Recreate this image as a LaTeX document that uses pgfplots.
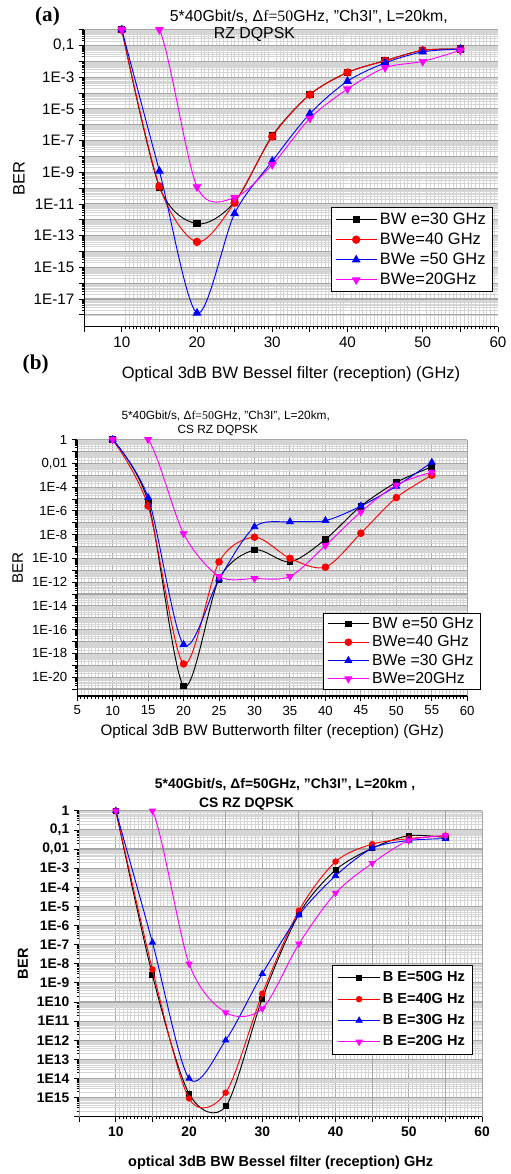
\documentclass[border=0pt]{standalone}
\usepackage{fontspec}
\setmainfont{Liberation Sans}
\newfontfamily\seriffont{Liberation Serif}
\usepackage{pgfplots}
\pgfplotsset{compat=1.18}
\pgfkeys{/pgf/number format/assume math mode=true}
\definecolor{bermag}{HTML}{FF00FF}
\newcommand\fsz[1]{\fontsize{#1}{#1}\selectfont}

\pgfplotsset{
  berax/.style={
    scale only axis,
    axis lines*=left,
    axis line style={black, line width=0.9pt},
    tick align=outside,
    tick style={black, line width=0.6pt},
    major tick length=4pt,
    minor tick length=2pt,
    major grid style={gray!70, line width=0.8pt},
    minor grid style={gray!33, line width=0.35pt},
    clip mode=individual,
    legend cell align=left,
    legend image code/.code={\draw[mark repeat=2,mark phase=2] plot coordinates {(0cm,0cm) (0.55cm,0cm) (1.1cm,0cm)};},
  },
  sblack/.style={black, line width=0.7pt, smooth, mark=square*, mark size=2.4pt, mark options={solid}},
  sred/.style={red, line width=0.7pt, smooth, mark=*, mark size=2.8pt, mark options={solid}},
  sblue/.style={blue, line width=0.7pt, smooth, mark=triangle*, mark size=3.2pt, mark options={solid}},
  smag/.style={bermag, line width=0.7pt, smooth, mark=triangle*, mark size=3.2pt, mark options={solid, rotate=180}},
}

\begin{document}
\begin{tikzpicture}
\path (0,0) rectangle (384.75pt,-880.5pt);

% ---------------- (a) ----------------
\begin{axis}[berax, ymode=log,
  at={(63.75pt,-22.5pt)}, anchor=north west,
  width=313.5pt, height=225pt,
  xmin=5, xmax=60, ymin=1.78e-19, ymax=1,
  xtick={10,20,...,60},
  extra x ticks={5,15,...,55}, extra x tick labels={},
  extra x tick style={grid=none},
  minor x tick num=19,
  xmajorgrids=false, xminorgrids=true,
  ymajorgrids=true, yminorgrids=true,
  ytickten={-18,...,0},
  yticklabels={,1E-17,,1E-15,,1E-13,,1E-11,,1E-9,,1E-7,,1E-5,,1E-3,,{0,1},},
  ticklabel style={font=\fsz{11.5}},
  xlabel={Optical 3dB BW Bessel filter (reception) (GHz)},
  ylabel={BER},
  label style={font=\fsz{12.5}},
  legend style={at={(0.988,0.403)}, anchor=north east, draw=black, line width=0.8pt,
    font=\fsz{12.5}, inner xsep=3pt, inner ysep=2pt, row sep=1pt},
]
\addplot[sblack] coordinates {(10,1) (15,1.2e-10) (20,5.6e-13) (25,1.3e-11) (30,2e-7) (35,8e-5) (40,2e-3) (45,1.1e-2) (50,5e-2) (55,6e-2)};
\addlegendentry{BW e=30 GHz}
\addplot[sred] coordinates {(10,1) (15,1.3e-10) (20,4e-14) (25,1.2e-11) (30,1.8e-7) (35,8e-5) (40,2e-3) (45,1.1e-2) (50,5e-2) (55,6e-2)};
\addlegendentry{BWe=40 GHz}
\addplot[sblue] coordinates {(10,1) (15,1.2e-9) (20,1.3e-18) (25,2.5e-12) (30,5e-9) (35,5e-6) (40,5.6e-4) (45,8e-3) (50,4e-2) (55,6e-2)};
\addlegendentry{BWe =50 GHz}
\addplot[smag] coordinates {(10,1) (15,1) (20,1.2e-10) (25,2.5e-11) (30,3e-9) (35,2.5e-6) (40,1.8e-4) (45,4e-3) (50,1e-2) (55,5e-2)};
\addlegendentry{BWe=20GHz}
\end{axis}
\node[font=\seriffont\bfseries\fsz{16}] at (36pt,-12.75pt) {(a)};
\node[font=\fsz{12}] at (234pt,-12.75pt) {5*40Gbit/s, Δ{\seriffont f=50}GHz, "Ch3I", L=20km,};
\node[font=\fsz{12}] at (192.75pt,-26.25pt) {RZ DQPSK};

% ---------------- (b) ----------------
\begin{axis}[berax, ymode=log,
  at={(58.5pt,-333pt)}, anchor=north west,
  width=295.5pt, height=194.25pt,
  xmin=5, xmax=60, ymin=2.6e-22, ymax=1,
  xtick={5,10,...,60},
  minor x tick num=9,
  grid=both,
  ytickten={-21,...,0},
  yticklabels={,1E-20,,1E-18,,1E-16,,1E-14,,1E-12,,1E-10,,1E-8,,1E-6,,1E-4,,{0,01},,1},
  ticklabel style={font=\fsz{10}},
  xlabel={Optical 3dB BW Butterworth filter (reception) (GHz)},
  ylabel={BER},
  label style={font=\fsz{11.5}},
  legend style={at={(1.035,0.324)}, anchor=north east, draw=black, line width=0.8pt,
    font=\fsz{12}, inner xsep=3pt, inner ysep=1pt, row sep=0pt},
]
\addplot[sblack, mark size=2.2pt] coordinates {(10,1) (15,5.6e-6) (20,1.8e-21) (25,1.8e-12) (30,5e-10) (35,5e-11) (40,4e-9) (45,2.5e-6) (50,2.5e-4) (55,5e-3)};
\addlegendentry{BW e=50 GHz}
\addplot[sred, mark size=2.5pt] coordinates {(10,1) (15,2.5e-6) (20,1.3e-19) (25,5e-11) (30,6e-9) (35,1e-10) (40,1.8e-11) (45,1.3e-8) (50,1.3e-5) (55,1e-3)};
\addlegendentry{BWe=40 GHz}
\addplot[sblue, mark size=2.9pt] coordinates {(10,1) (15,1.3e-5) (20,5.6e-18) (25,1.8e-12) (30,4.5e-8) (35,1.2e-7) (40,1.5e-7) (45,2.5e-6) (50,1.2e-4) (55,1.2e-2)};
\addlegendentry{BWe =30 GHz}
\addplot[smag, mark size=2.9pt] coordinates {(10,1) (15,1) (20,1.2e-8) (25,3e-12) (30,2e-12) (35,3e-12) (40,1.2e-9) (45,8e-7) (50,1.5e-4) (55,1.8e-3)};
\addlegendentry{BWe=20GHz}
\end{axis}
\node[font=\seriffont\bfseries\fsz{16}] at (27pt,-276pt) {(b)};
\node[font=\fsz{9}] at (171pt,-315pt) {5*40Gbit/s, Δ{\seriffont f=50}GHz, "Ch3I", L=20km,};
\node[font=\fsz{9}] at (165pt,-326.25pt) {CS RZ DQPSK};

% ---------------- (c) ----------------
\begin{axis}[berax, ymode=log,
  at={(60pt,-614.25pt)}, anchor=north west,
  width=305.25pt, height=231.75pt,
  xmin=5, xmax=60, ymin=1e-16, ymax=1,
  xtick={10,20,...,60},
  extra x ticks={5,15,...,55}, extra x tick labels={},
  extra x tick style={grid=major},
  minor x tick num=19,
  grid=both,
  ytickten={-16,...,0},
  yticklabels={,1E15,1E14,1E13,1E12,1E11,1E10,1E-9,1E-8,1E-7,1E-6,1E-5,1E-4,1E-3,{0,01},{0,1},1},
  ticklabel style={font=\bfseries\fsz{10.5}},
  xlabel={optical 3dB BW Bessel filter (reception) GHz},
  ylabel={BER},
  label style={font=\bfseries\fsz{11}},
  legend style={at={(0.978,0.497)}, anchor=north east, draw=black, line width=0.8pt,
    font=\bfseries\fsz{11}, inner xsep=4pt, inner ysep=3pt, row sep=3pt},
]
\addplot[sblack, mark size=1.9pt] coordinates {(10,1) (15,2.5e-9) (20,1.6e-15) (25,3.5e-16) (30,1.5e-10) (35,4e-6) (40,8e-4) (45,1.1e-2) (50,5e-2) (55,4e-2)};
\addlegendentry{B E=50G Hz}
\addplot[sred, mark size=2.1pt] coordinates {(10,1) (15,5e-9) (20,9e-16) (25,1.8e-15) (30,2.7e-10) (35,6e-6) (40,2.2e-3) (45,1.8e-2) (50,3.5e-2) (55,5e-2)};
\addlegendentry{B E=40G Hz}
\addplot[sblue, mark size=2.6pt] coordinates {(10,1) (15,1.3e-7) (20,1e-14) (25,1e-12) (30,3e-9) (35,3.5e-6) (40,4e-4) (45,1.1e-2) (50,2.8e-2) (55,3.5e-2)};
\addlegendentry{B E=30G Hz}
\addplot[smag, mark size=2.6pt] coordinates {(10,1) (15,1) (20,1e-8) (25,2.8e-11) (30,4.5e-11) (35,1.1e-7) (40,5e-5) (45,1.8e-3) (50,2.8e-2) (55,5e-2)};
\addlegendentry{B E=20G Hz}
\end{axis}
\node[font=\bfseries\fsz{10.5}] at (216pt,-594pt) {5*40Gbit/s, Δf=50GHz, "Ch3I", L=20km ,};
\node[font=\bfseries\fsz{10.5}] at (186.75pt,-609pt) {CS RZ DQPSK};
\end{tikzpicture}
\end{document}
